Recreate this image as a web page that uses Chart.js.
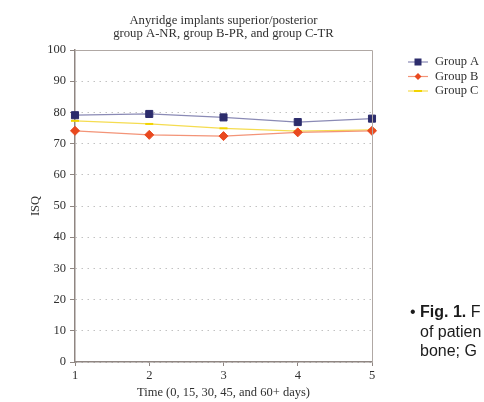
<!DOCTYPE html>
<html>
<head>
<meta charset="utf-8">
<script src="https://cdn.jsdelivr.net/npm/chart.js@4.4.1/dist/chart.umd.min.js"></script>
<style>
  html, body { margin: 0; padding: 0; background: #fff; overflow: hidden; }
  #wrap { position: relative; width: 484px; height: 402px; overflow: hidden; }
  #note {
    position: absolute; left: 420px; top: 302px;
    font-family: "Liberation Sans", Arial, sans-serif; font-size: 16px;
    line-height: 19.5px; color: #1b1b1b; white-space: nowrap;
  }
  #note .dot { position: absolute; left: -10px; top: 0; }
</style>
</head>
<body>
<div id="wrap">
  <canvas id="isqChart" width="484" height="402"></canvas>
  <div id="note"><span class="dot">•</span><b>Fig. 1.</b> F<br>of patien<br>bone; G</div>
</div>
<script>
// values
const timePoints = ['1', '2', '3', '4', '5'];
const groupA = [79.1, 79.5, 78.4, 76.9, 78.0];
const groupB = [74.1, 72.8, 72.4, 73.6, 74.1];
const groupC = [77.3, 76.3, 74.9, 74.0, 74.4];
const seriesNames = ['Group A', 'Group B', 'Group C'];
const titleLines = ['Anyridge implants superior/posterior', 'group A-NR, group B-PR, and group C-TR'];

const serif = '"Liberation Serif", "DejaVu Serif", serif';
const textColor = '#303030';
const axisColor = '#8f8682';

// title, box outline and legend drawn on top of the chart
const extras = {
    id: 'extras',
    afterDraw(chart) {
        const ctx = chart.ctx;
        const area = chart.chartArea;
        ctx.save();

        // outline (top + right)
        ctx.strokeStyle = '#b0a8a4';
        ctx.lineWidth = 1;
        ctx.beginPath();
        ctx.moveTo(area.left, area.top + 0.5);
        ctx.lineTo(area.right + 0.5, area.top + 0.5);
        ctx.lineTo(area.right + 0.5, area.bottom);
        ctx.stroke();

        // title
        ctx.fillStyle = textColor;
        ctx.font = '12.7px ' + serif;
        ctx.textAlign = 'center';
        ctx.textBaseline = 'middle';
        const cx = (area.left + area.right) / 2;
        ctx.fillText(titleLines[0], cx, 21);
        ctx.fillText(titleLines[1], cx, 33.5);

        // legend
        ctx.textAlign = 'left';
        ctx.font = '12.5px ' + serif;
        chart.data.datasets.forEach((ds, i) => {
            const y = 62 + i * 14.5;
            ctx.strokeStyle = ds.borderColor;
            ctx.lineWidth = 1.2;
            ctx.beginPath();
            ctx.moveTo(408, y);
            ctx.lineTo(428, y);
            ctx.stroke();
            ctx.fillStyle = ds.pointBackgroundColor;
            if (ds.pointStyle === 'rect') {
                ctx.fillRect(414.5, y - 3.5, 7, 7);
            } else if (ds.pointStyle === 'rectRot') {
                ctx.beginPath();
                ctx.moveTo(418, y - 3.5);
                ctx.lineTo(421.5, y);
                ctx.lineTo(418, y + 3.5);
                ctx.lineTo(414.5, y);
                ctx.closePath();
                ctx.fill();
            } else {
                ctx.strokeStyle = ds.pointBorderColor;
                ctx.lineWidth = 2;
                ctx.beginPath();
                ctx.moveTo(414, y);
                ctx.lineTo(422, y);
                ctx.stroke();
            }
            ctx.fillStyle = textColor;
            ctx.fillText(ds.label, 435, y);
        });
        ctx.restore();
    }
};

new Chart(document.getElementById('isqChart'), {
    type: 'line',
    data: {
        labels: timePoints,
        datasets: [
            {
                label: seriesNames[0],
                data: groupA,
                borderColor: '#8a8ab5',
                borderWidth: 1.2,
                pointStyle: 'rect',
                pointRadius: 5,
                pointBackgroundColor: '#2c2c6c',
                pointBorderColor: '#2c2c6c',
                pointBorderWidth: 1
            },
            {
                label: seriesNames[1],
                data: groupB,
                borderColor: '#f39478',
                borderWidth: 1.2,
                pointStyle: 'rectRot',
                pointRadius: 4.5,
                pointBackgroundColor: '#e9491f',
                pointBorderColor: '#e9491f',
                pointBorderWidth: 1
            },
            {
                label: seriesNames[2],
                data: groupC,
                borderColor: '#f5dc50',
                borderWidth: 1.3,
                pointStyle: 'line',
                pointRadius: 4,
                pointBackgroundColor: '#f2d400',
                pointBorderColor: '#f2d400',
                pointBorderWidth: 2
            }
        ]
    },
    options: {
        responsive: false,
        animation: false,
        devicePixelRatio: 1,
        layout: { padding: { top: 50, right: 112, left: 28, bottom: 0 } },
        scales: {
            x: {
                offset: false,
                grid: { drawOnChartArea: false, tickLength: 4, tickColor: axisColor },
                border: { color: axisColor, width: 1.5 },
                ticks: { font: { family: serif, size: 12.5 }, color: textColor, padding: 2, maxRotation: 0 },
                title: {
                    display: true,
                    text: 'Time (0, 15, 30, 45, and 60+ days)',
                    font: { family: serif, size: 12.5 },
                    color: textColor,
                    padding: { top: 0, bottom: 2 }
                },
                afterFit: s => { s.height = 40; }
            },
            y: {
                min: 0,
                max: 100,
                ticks: { stepSize: 10, font: { family: serif, size: 12.5 }, color: textColor, padding: 4 },
                grid: { color: '#c2c2c2', lineWidth: 1, tickLength: 5, tickColor: axisColor },
                border: { color: axisColor, width: 1.5, dash: [1.5, 4.5] },
                title: {
                    display: true,
                    text: 'ISQ',
                    font: { family: serif, size: 12.5 },
                    color: textColor,
                    padding: 0
                },
                afterFit: s => { s.width = 47; }
            }
        },
        plugins: {
            legend: { display: false },
            title: { display: false },
            tooltip: { enabled: false }
        }
    },
    plugins: [extras]
});
</script>
</body>
</html>
